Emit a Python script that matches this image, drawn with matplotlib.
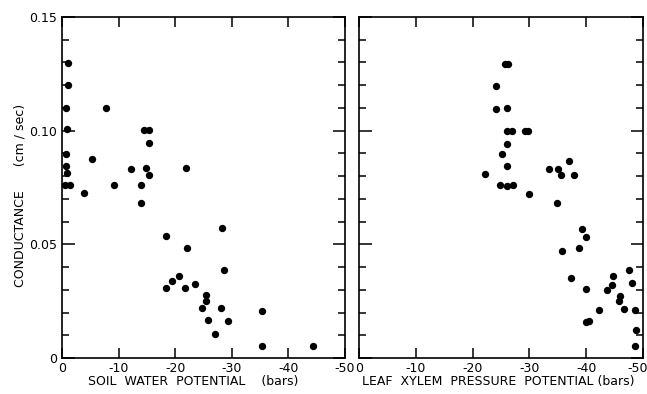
import matplotlib
matplotlib.use("Agg")
import matplotlib.pyplot as plt
from matplotlib.ticker import MultipleLocator
from matplotlib.transforms import ScaledTranslation

plt.rcParams['axes.unicode_minus'] = False
plt.rcParams['font.family'] = ['DejaVu Sans']

# soil water potential (bars) vs conductance (cm/sec)
soil_x = [-1.0, -1.1, -0.7, -7.7, -0.8, -14.5, -15.4, -15.3, -0.7, -5.3,
          -0.7, -12.2, -14.8, -21.9, -0.9, -15.3, -0.6, -1.4, -9.1, -14.0,
          -3.9, -14.0, -18.3, -28.2, -22.1, -28.6, -20.6, -19.5, -18.4, -21.8,
          -23.5, -25.5, -25.5, -24.8, -28.1, -35.3, -25.8, -29.3, -27.0, -35.3,
          -44.4]
soil_y = [0.1297, 0.1200, 0.1100, 0.1100, 0.1006, 0.1002, 0.1004, 0.0947, 0.0898, 0.0874,
          0.0846, 0.0832, 0.0836, 0.0835, 0.0813, 0.0803, 0.0763, 0.0763, 0.0762, 0.0759,
          0.0728, 0.0683, 0.0535, 0.0571, 0.0486, 0.0389, 0.0361, 0.0338, 0.0308, 0.0306,
          0.0326, 0.0276, 0.0251, 0.0218, 0.0218, 0.0207, 0.0167, 0.0164, 0.0104, 0.0054,
          0.0054]

# leaf xylem pressure potential (bars) vs conductance (cm/sec)
leaf_x = [-25.7, -26.3, -24.1, -24.1, -26.1, -26.1, -26.9, -29.2, -29.8, -26.1,
          -25.1, -26.1, -22.1, -33.5, -35.1, -35.5, -37.0, -37.9, -24.8, -26.0,
          -27.1, -30.0, -34.9, -39.3, -39.9, -35.8, -38.8, -37.3, -39.9, -47.6,
          -44.7, -48.1, -44.6, -43.6, -46.0, -45.7, -46.6, -42.2, -48.6, -39.9,
          -40.5, -48.8, -48.6]
leaf_y = [0.1295, 0.1295, 0.1198, 0.1095, 0.1099, 0.1000, 0.1000, 0.1000, 0.0997, 0.0941,
          0.0896, 0.0846, 0.0809, 0.0832, 0.0832, 0.0807, 0.0868, 0.0804, 0.0759, 0.0757,
          0.0759, 0.0722, 0.0681, 0.0568, 0.0532, 0.0471, 0.0484, 0.0352, 0.0305, 0.0386,
          0.0361, 0.0332, 0.0319, 0.0301, 0.0273, 0.0250, 0.0215, 0.0211, 0.0211, 0.0160,
          0.0164, 0.0121, 0.0054]

x_ticks = [0, -10, -20, -30, -40, -50]
y_ticks = [0, 0.05, 0.10, 0.15]
y_labels = ['0', '0.05', '0.10', '0.15']

W, H = 647, 394
fig = plt.figure(figsize=(W / 100, H / 100), dpi=100)

def make_ax(x0, x1, xs, ys):
    ax = fig.add_axes([x0 / W, (H - 358) / H, (x1 - x0) / W, (358 - 17) / H])
    ax.scatter(xs, ys, s=28, color='black', zorder=3, clip_on=False, linewidths=0)
    ax.set_xlim(0, -50)
    ax.set_ylim(0, 0.15)
    ax.set_xticks(x_ticks)
    ax.set_xticklabels([str(t) for t in x_ticks], fontsize=9)
    # minus sign hangs left of the tick, digits sit on it
    shift = ScaledTranslation(-3 / 100, 0, fig.dpi_scale_trans)
    for lab, t in zip(ax.get_xticklabels(), x_ticks):
        if t != 0:
            lab.set_transform(lab.get_transform() + shift)
    ax.set_yticks(y_ticks)
    ax.yaxis.set_minor_locator(MultipleLocator(0.01))
    ax.tick_params(which='both', direction='in', top=True, right=True, width=1.1, color='black')
    ax.tick_params(which='major', axis='y', length=9)
    ax.tick_params(which='minor', axis='y', length=5)
    ax.tick_params(axis='x', length=7, pad=3)
    for s in ax.spines.values():
        s.set_linewidth(1.2)
    return ax

ax1 = make_ax(62, 345, soil_x, soil_y)
ax1.set_yticklabels(y_labels, fontsize=9)
ax2 = make_ax(359, 643, leaf_x, leaf_y)
ax2.set_yticklabels([])
last = ax2.get_xticklabels()[-1]
last.set_horizontalalignment('right')
last.set_transform(last.get_transform() + ScaledTranslation(5 / 100, 0, fig.dpi_scale_trans))

fig.text(193 / W, 1 - 382 / H, 'SOIL  WATER  POTENTIAL    (bars)', fontsize=9,
         ha='center', va='center')
fig.text(498 / W, 1 - 382 / H, 'LEAF  XYLEM  PRESSURE  POTENTIAL (bars)', fontsize=9,
         ha='center', va='center')
fig.text(20 / W, 1 - 195 / H, 'CONDUCTANCE      (cm / sec)', fontsize=9,
         rotation=90, ha='center', va='center')

fig.savefig('out.png', dpi=100)
